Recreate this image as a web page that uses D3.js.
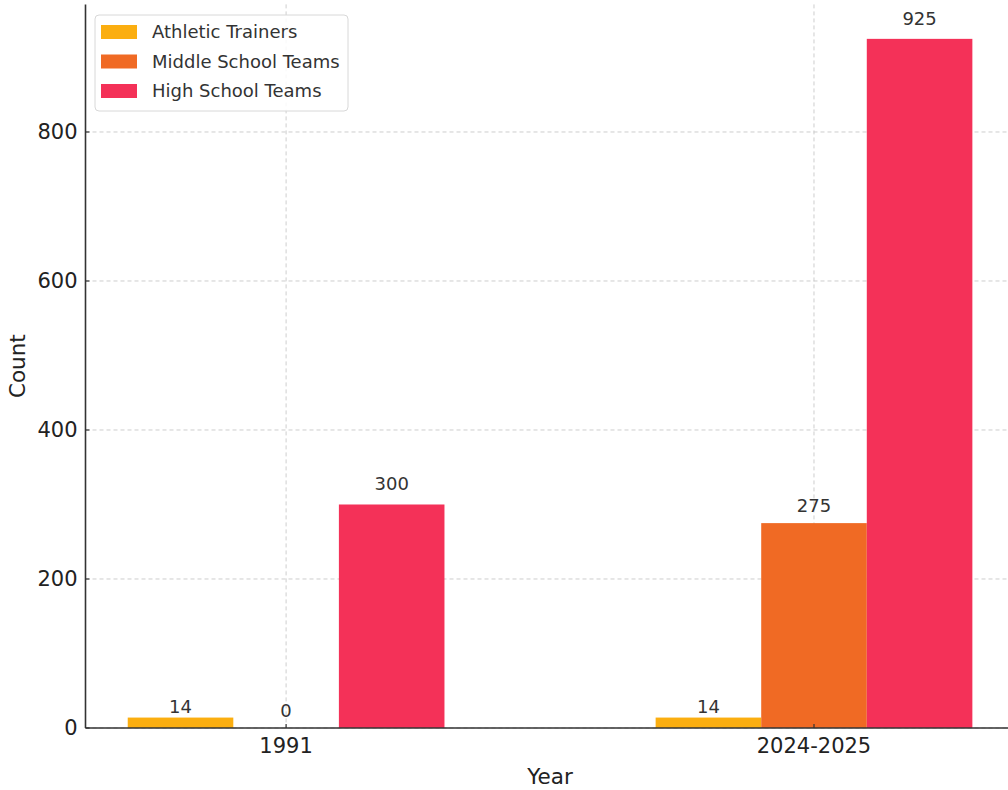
<!DOCTYPE html>
<html><head><meta charset="utf-8">
<script src="https://cdn.jsdelivr.net/npm/d3@7"></script>
<style>body{margin:0;background:#fff}svg{display:block;font-family:"DejaVu Sans",sans-serif}</style>
</head><body><svg id="c" width="1008" height="790"></svg>
<script>
const categories = ["1991", "2024-2025"];
const seriesNames = ["Athletic Trainers", "Middle School Teams", "High School Teams"];
const athleticTrainers = [14, 14];
const middleSchoolTeams = [0, 275];
const highSchoolTeams = [300, 925];
const yTicks = [0, 200, 400, 600, 800];
const colors = ["#FBAE10", "#F06A24", "#F43158"];
const seriesValues = [athleticTrainers, middleSchoolTeams, highSchoolTeams];

(function () {
const svg = d3.select("#c");
const pL = 85.5, pR = 1014.6, pT = 4.4, pB = 728;
const x = d3.scaleLinear().domain([-0.38, 1.38]).range([pL, pR]);
const y = d3.scaleLinear().domain([0, 971.25]).range([pB, pT]);
const barW = 0.2;

// grid
const grid = svg.append("g").attr("stroke", "#c8c8c8").attr("stroke-dasharray", "4,3").attr("stroke-width", 0.9);
yTicks.forEach(t => grid.append("line").attr("x1", pL).attr("x2", 1008).attr("y1", y(t)).attr("y2", y(t)));
categories.forEach((c, i) => grid.append("line").attr("x1", x(i)).attr("x2", x(i)).attr("y1", pT).attr("y2", pB));

// bars
seriesValues.forEach((vals, s) => {
  const off = (s - 1) * barW;
  vals.forEach((v, i) => {
    svg.append("rect")
      .attr("x", x(i + off - barW / 2))
      .attr("width", x(i + off + barW / 2) - x(i + off - barW / 2))
      .attr("y", y(v)).attr("height", y(0) - y(v))
      .attr("fill", colors[s]);
    const gap = v >= 300 ? 14 : (v > 0 && v < 50 ? 5 : 11);
    svg.append("text").attr("x", x(i + off)).attr("y", y(v) - gap)
      .attr("text-anchor", "middle").attr("font-size", 18).attr("fill", "#333")
      .text(v);
  });
});

// axes
const ax = svg.append("g").attr("fill", "#222");
ax.append("line").attr("x1", pL).attr("x2", pL).attr("y1", pT).attr("y2", pB).attr("stroke", "#333").attr("stroke-width", 1.6);
ax.append("line").attr("x1", pL).attr("x2", 1008).attr("y1", pB).attr("y2", pB).attr("stroke", "#333").attr("stroke-width", 1.6);
yTicks.forEach(t => {
  ax.append("line").attr("x1", pL).attr("x2", pL + 4).attr("y1", y(t)).attr("y2", y(t)).attr("stroke", "#333").attr("stroke-width", 1.2);
  ax.append("text").attr("x", pL - 8).attr("y", y(t)).attr("dy", "0.35em").attr("text-anchor", "end").attr("font-size", 21).text(t);
});
categories.forEach((c, i) => {
  ax.append("line").attr("x1", x(i)).attr("x2", x(i)).attr("y1", pB).attr("y2", pB - 4).attr("stroke", "#333").attr("stroke-width", 1.2);
  ax.append("text").attr("x", x(i)).attr("y", pB + 25).attr("text-anchor", "middle").attr("font-size", 21).text(c);
});
ax.append("text").attr("x", (pL + pR) / 2).attr("y", 784).attr("text-anchor", "middle").attr("font-size", 21.5).text("Year");
ax.append("text").attr("transform", `translate(25,${(pT + pB) / 2}) rotate(-90)`).attr("text-anchor", "middle").attr("font-size", 21.5).text("Count");

// legend
const lg = svg.append("g");
lg.append("rect").attr("x", 95).attr("y", 15).attr("width", 253).attr("height", 96).attr("rx", 4)
  .attr("fill", "#fff").attr("fill-opacity", 0.85).attr("stroke", "#d8d8d8");
seriesNames.forEach((n, i) => {
  const cy = 32 + i * 29.5;
  lg.append("rect").attr("x", 101).attr("y", cy - 7).attr("width", 36).attr("height", 14).attr("fill", colors[i]);
  lg.append("text").attr("x", 152).attr("y", cy).attr("dy", "0.35em").attr("font-size", 18).attr("fill", "#333").text(n);
});
})();
</script></body></html>
